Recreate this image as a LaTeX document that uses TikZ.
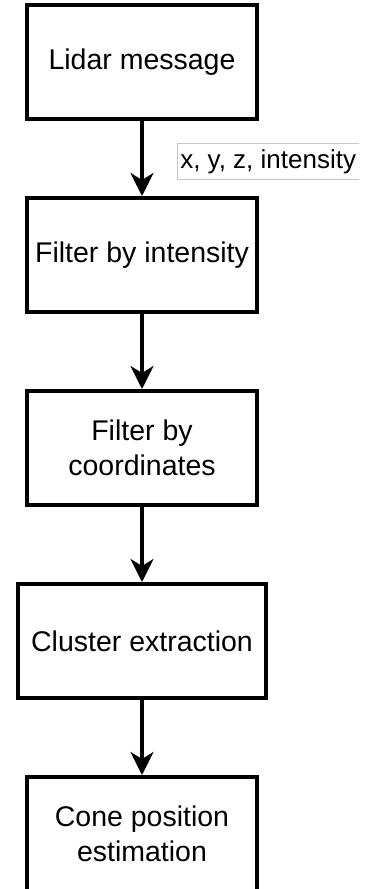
\documentclass[tikz,border=0pt]{standalone}
\usepackage{fontspec}
\setmainfont{Liberation Sans}
\usetikzlibrary{positioning,arrows.meta}

\begin{document}
\begin{tikzpicture}[x=1pt,y=1pt,
  stage/.style={draw, line width=4pt, minimum width=230pt, minimum height=114pt,
    inner sep=0pt, align=center, font=\fontsize{28.5}{35}\selectfont},
  flow/.style={-{Stealth[length=23pt,width=23pt,inset=7pt]}, line width=3.5pt},
  fieldlbl/.style={inner xsep=1.5pt, inner ysep=0pt, minimum height=33pt,
    font=\fontsize{26}{30}\selectfont},
  fieldline/.style={draw=gray!45, line width=0.8pt}]
\useasboundingbox (0,0) rectangle (376,-889);
\node[stage] (lidar) at (142,-62) {Lidar message};
\node[stage, below=75pt of lidar] (intens) {Filter by intensity};
\node[stage, below=75pt of intens] (coords) {Filter by\\coordinates};
\node[stage, minimum width=248pt, below=75pt of coords] (cluster) {Cluster extraction};
\node[stage, below=75pt of cluster] (cone) {Cone position\\estimation};
\draw[flow] (lidar) -- node[midway, right=35pt, yshift=-3pt, fieldlbl] (fields) {x, y, z, intensity} (intens);
\draw[flow] (intens) -- (coords);
\draw[flow] (coords) -- (cluster);
\draw[flow] (cluster) -- (cone);
% label frame, open on the right
\draw[fieldline] (fields.north east) -- (fields.north west) -- (fields.south west) -- (fields.south east);
\end{tikzpicture}
\end{document}
